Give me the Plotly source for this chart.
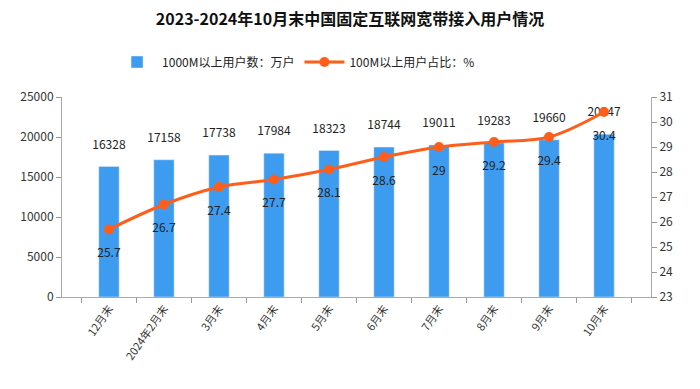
import plotly.graph_objects as go

categories = ["12月末", "2024年2月末", "3月末", "4月末", "5月末", "6月末", "7月末", "8月末", "9月末", "10月末"]
users_1000m = [16328, 17158, 17738, 17984, 18323, 18744, 19011, 19283, 19660, 20347]
share_100m = [25.7, 26.7, 27.4, 27.7, 28.1, 28.6, 29, 29.2, 29.4, 30.4]
share_labels = ["25.7", "26.7", "27.4", "27.7", "28.1", "28.6", "29", "29.2", "29.4", "30.4"]

font_main = "Noto Sans CJK SC, DejaVu Sans, sans-serif"

fig = go.Figure()
fig.add_trace(go.Bar(
    x=categories, y=users_1000m, name="1000M以上用户数：万户",
    marker=dict(color="#3D9BF0"), width=0.37,
))
# bar value labels, a little above the bar tops
fig.add_trace(go.Scatter(
    x=categories, y=users_1000m, mode="markers+text",
    marker=dict(size=22, color="rgba(0,0,0,0)"),
    text=[str(v) for v in users_1000m], textposition="top center",
    textfont=dict(size=12, color="#222", family=font_main),
    showlegend=False, hoverinfo="skip", cliponaxis=False,
))
fig.add_trace(go.Scatter(
    x=categories, y=share_100m, name="100M以上用户占比：%",
    yaxis="y2", mode="lines+markers",
    line=dict(color="#FF5E1A", width=3, shape="spline"),
    marker=dict(color="#FF5E1A", size=10),
    cliponaxis=False,
))
# labels for the line, placed a bit further below the points
fig.add_trace(go.Scatter(
    x=categories, y=share_100m, yaxis="y2", mode="markers+text",
    marker=dict(size=28, color="rgba(0,0,0,0)"),
    text=share_labels, textposition="bottom center",
    textfont=dict(size=12, color="#222", family=font_main),
    showlegend=False, hoverinfo="skip", cliponaxis=False,
))

fig.update_layout(
    width=700, height=389,
    margin=dict(l=62, r=49, t=97, b=92, autoexpand=False),
    paper_bgcolor="white", plot_bgcolor="white",
    title=dict(text="<b>2023-2024年10月末中国固定互联网宽带接入用户情况</b>",
               x=0.5, xanchor="center", y=0.95, yanchor="middle",
               font=dict(size=16, color="#111", family=font_main)),
    legend=dict(orientation="h", x=0.085, xanchor="left", y=1.175, yanchor="middle",
                font=dict(size=12, color="#222", family=font_main),
                itemwidth=40, traceorder="normal"),
    bargap=0.5,
    xaxis=dict(type="category", tickson="boundaries", ticks="outside", ticklen=5,
               tickcolor="#999", showline=True, linecolor="#aaa", linewidth=1,
               tickangle=-55, tickfont=dict(size=11, color="#333", family=font_main),
               showgrid=False, automargin=False),
    yaxis=dict(range=[0, 25000], dtick=5000, tickformat="d", ticks="outside", ticklen=5,
               tickcolor="#999", automargin=False,
               showline=True, linecolor="#aaa", linewidth=1, showgrid=False, zeroline=False,
               tickfont=dict(size=12, color="#333", family=font_main)),
    yaxis2=dict(range=[23, 31], dtick=1, overlaying="y", side="right", ticks="outside",
                ticklen=5, tickcolor="#999", showline=True, linecolor="#aaa", linewidth=1,
                showgrid=False, zeroline=False, automargin=False,
                tickfont=dict(size=12, color="#333", family=font_main)),
)

fig.write_html("out.html", config={"displayModeBar": False},
               post_script="document.body.style.margin='0';")
